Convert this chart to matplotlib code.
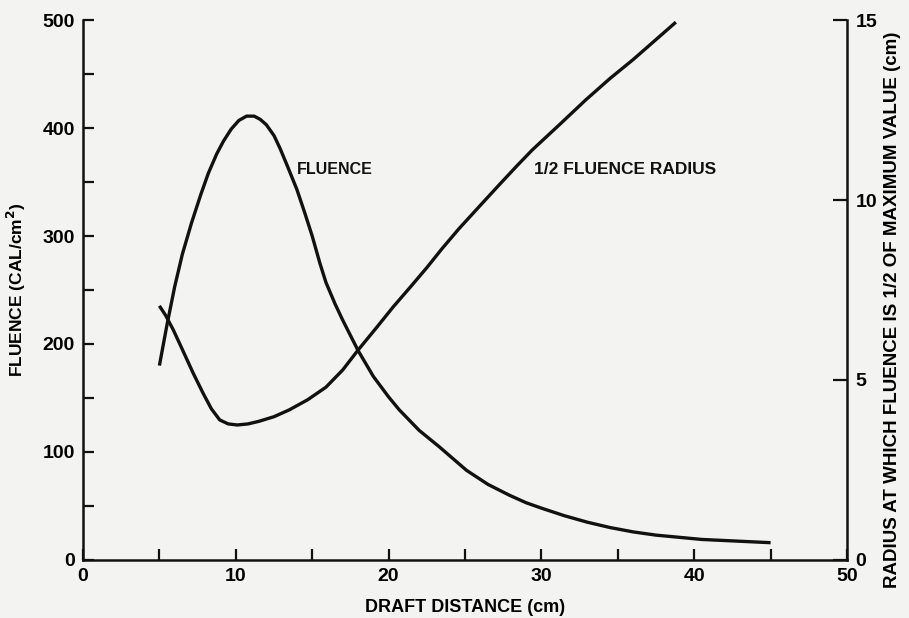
import matplotlib
matplotlib.use("Agg")
import matplotlib.pyplot as plt
from matplotlib.ticker import MultipleLocator

# fluence (left axis, CAL/cm^2) vs draft distance (cm)
fluence_x = [5.0, 5.5, 6.0, 6.5, 7.1, 7.7, 8.2, 8.75, 9.2, 9.7, 10.2, 10.7, 11.2,
             11.6, 12.0, 12.5, 12.9, 13.4, 14.0, 14.5, 15.0, 15.5, 15.9, 16.5,
             17.0, 18.0, 19.0, 20.0, 20.7, 22.0, 23.3, 24.2, 25.1, 26.5, 27.9,
             29.0, 30.0, 31.5, 33.0, 34.5, 36.0, 37.5, 39.0, 40.5, 42.0, 43.5, 45.0]
fluence_y = [180, 218, 253, 283, 312, 338, 358, 376, 388, 399, 407, 411, 411,
             408, 403, 393, 381, 364, 343, 322, 300, 275, 257, 237,
             222, 194, 170, 151, 139, 120, 105, 94, 83, 70, 60,
             53, 48, 41, 35, 30, 26, 23, 21, 19, 18, 17, 16]

# 1/2 fluence radius (right axis, cm)
radius_x = [5.0, 5.4, 5.9, 6.5, 7.2, 7.85, 8.4, 8.95, 9.5, 10.1, 10.8, 11.5, 12.5,
            13.5, 14.7, 15.9, 17.0, 18.0, 19.2, 20.3, 21.4, 22.5, 23.5, 24.6,
            26.0, 27.3, 28.4, 29.4, 31.2, 32.9, 34.5, 36.0, 37.4, 38.8]
radius_y = [7.06, 6.8, 6.4, 5.85, 5.2, 4.64, 4.2, 3.89, 3.78, 3.75, 3.78, 3.85, 3.98,
            4.17, 4.45, 4.8, 5.28, 5.83, 6.45, 7.03, 7.57, 8.12, 8.65, 9.2,
            9.85, 10.45, 10.95, 11.39, 12.1, 12.78, 13.38, 13.9, 14.42, 14.94]

plt.rcParams['font.family'] = ['Liberation Sans', 'DejaVu Sans']
plt.rcParams['font.weight'] = 'bold'

bg = '#f3f3f1'
ink = '#111111'

fig = plt.figure(figsize=(9.09, 6.18), dpi=100, facecolor=bg)
ax = fig.add_axes([0.0913, 0.0939, 0.8405, 0.8737])
ax.set_facecolor(bg)
ax2 = ax.twinx()

ax.plot(fluence_x, fluence_y, color=ink, lw=2.4, solid_capstyle='butt', solid_joinstyle='round')
ax2.plot(radius_x, radius_y, color=ink, lw=2.4, solid_capstyle='butt', solid_joinstyle='round')

ax.set_xlim(0, 50)
ax.set_ylim(0, 500)
ax2.set_ylim(0, 15)

for a in (ax, ax2):
    a.spines['top'].set_visible(False)
    for s in a.spines.values():
        s.set_linewidth(1.8)
        s.set_color(ink)

ax.spines['right'].set_visible(False)
ax2.spines['left'].set_visible(False)
ax2.spines['bottom'].set_visible(False)

ax.xaxis.set_major_locator(MultipleLocator(10))
ax.xaxis.set_minor_locator(MultipleLocator(5))
ax.yaxis.set_major_locator(MultipleLocator(100))
ax.yaxis.set_minor_locator(MultipleLocator(50))
ax2.yaxis.set_major_locator(MultipleLocator(5))

tick_kw = dict(direction='in', width=1.6, color=ink, labelsize=14)
ax.tick_params(axis='both', which='major', length=8, pad=6, **tick_kw)
ax.tick_params(axis='both', which='minor', length=8, width=1.6, direction='in', color=ink)
ax2.tick_params(axis='y', which='major', length=10, pad=6, **tick_kw)

ax.set_xlabel('DRAFT DISTANCE (cm)', fontsize=13, fontweight='bold', labelpad=10)
ax.set_ylabel('FLUENCE (CAL/cm$^\\mathbf{2}$)', fontsize=12.5, fontweight='bold', labelpad=10)
ax2.set_ylabel('RADIUS AT WHICH FLUENCE IS 1/2 OF MAXIMUM VALUE (cm)',
               fontsize=13.5, fontweight='bold')
ax2.yaxis.set_label_coords(1.049, 0.463)

ax.text(16.5, 362, 'FLUENCE', fontsize=11.5, fontweight='bold', ha='center', va='center', color=ink)
ax.text(35.5, 362, '1/2 FLUENCE RADIUS', fontsize=12.5, fontweight='bold', ha='center', va='center', color=ink)

fig.savefig('out.png', dpi=100, facecolor=bg)
